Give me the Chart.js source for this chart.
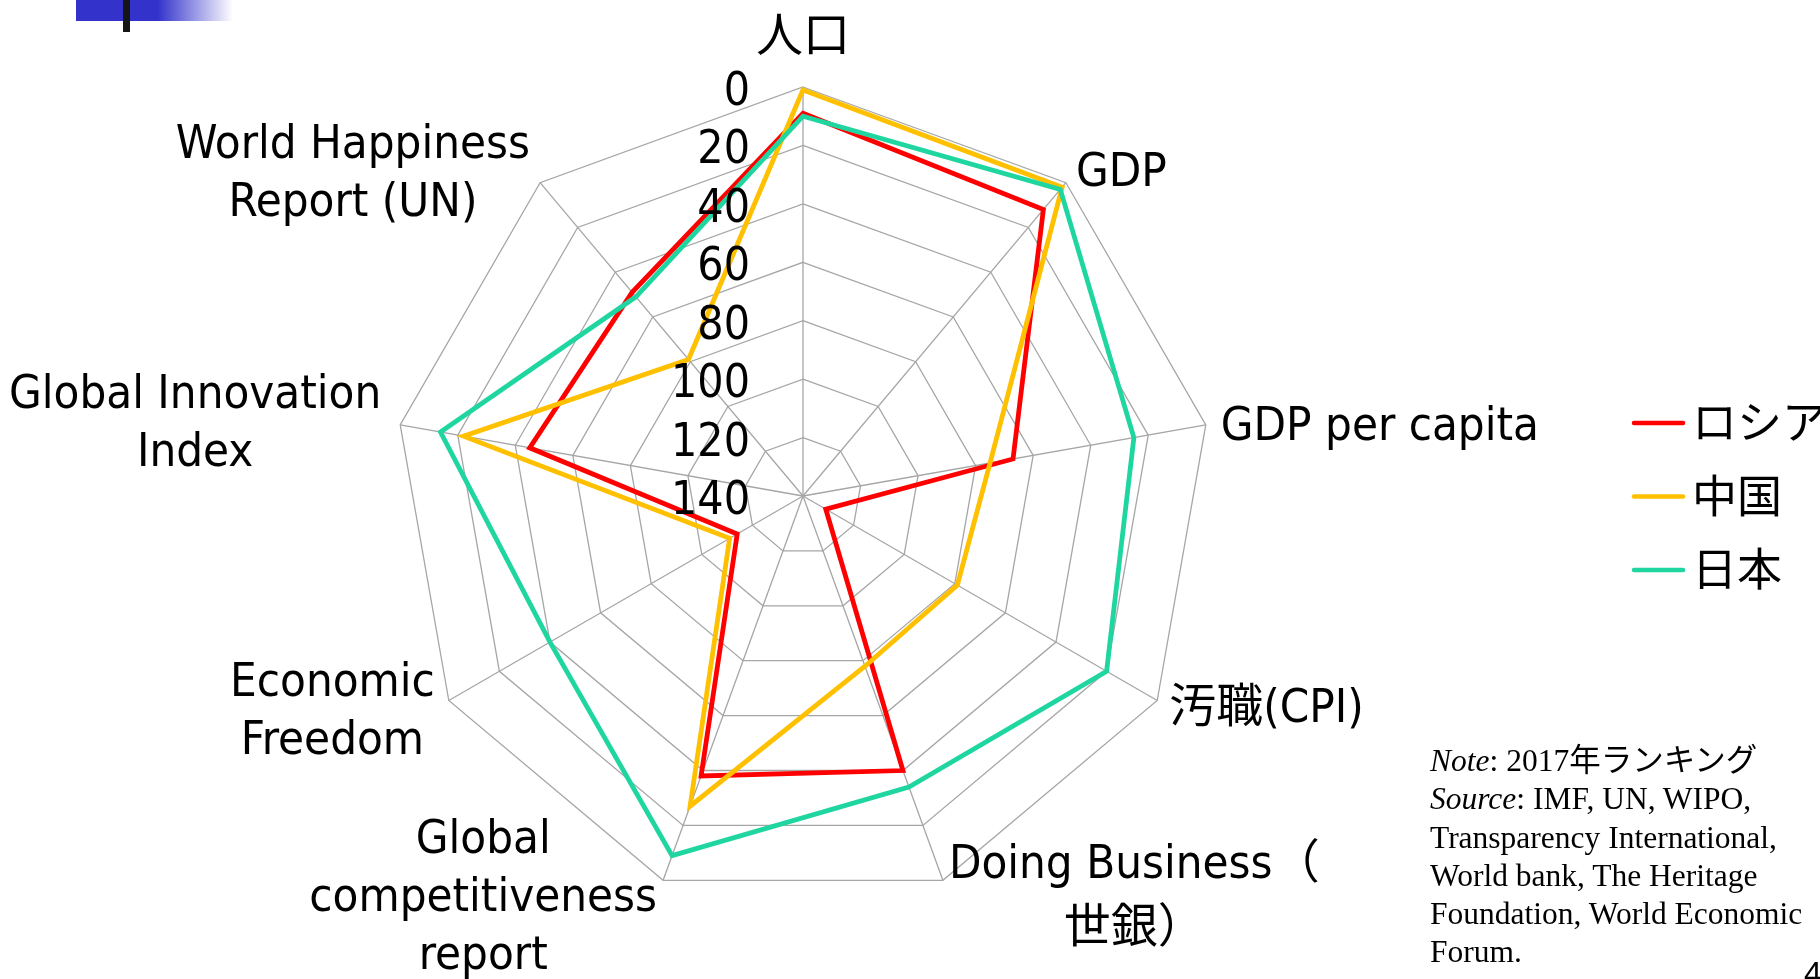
<!DOCTYPE html>
<html>
<head>
<meta charset="utf-8">
<script src="https://cdn.jsdelivr.net/npm/chart.js@4.4.1/dist/chart.umd.min.js"></script>
<style>
  html, body { margin: 0; padding: 0; background: #fff; }
  body { width: 1820px; height: 979px; position: relative; overflow: hidden; }
  #chart { position: absolute; left: 0; top: 0; }
  .band { position: absolute; left: 76px; top: 0; width: 157px; height: 21px;
          background: linear-gradient(to right, #3333cc 0%, #3333cc 52%, rgba(51,51,204,0) 100%); }
  .stem { position: absolute; left: 123px; top: 0; width: 7px; height: 32px; background: #151515; }
  .note { position: absolute; left: 1430px; top: 742px; color: #000; white-space: nowrap;
          font: 31.5px/38.3px "Liberation Serif", "Noto Sans CJK JP", serif; }
  .page { position: absolute; left: 1804px; top: 955px; font: 32px "Liberation Sans", sans-serif; color: #000; }
</style>
</head>
<body>
<div class="band"></div>
<div class="stem"></div>
<canvas id="chart" width="1820" height="979"></canvas>
<div class="note"><i>Note</i>: 2017年ランキング<br><i>Source</i>: IMF, UN, WIPO,<br>Transparency International,<br>World bank, The Heritage<br>Foundation, World Economic<br>Forum.</div>
<div class="page">4</div>
<script>
// Axes of the radar (multi-line labels as arrays)
const categories = [
  ['人口'],
  ['GDP'],
  ['GDP per capita'],
  ['汚職(CPI)'],
  ['Doing Business（', '世銀）'],
  ['Global', 'competitiveness', 'report'],
  ['Economic', 'Freedom'],
  ['Global Innovation', 'Index'],
  ['World Happiness', 'Report (UN)']
];

// Country names and their rank on each axis (1 = best)
const seriesNames = ['ロシア', '中国', '日本'];
const russiaRanks = [9, 12, 67, 131, 40, 38, 114, 45, 49];
const chinaRanks  = [1, 2, 75, 79, 78, 27, 111, 22, 79];
const japanRanks  = [10, 3, 25, 20, 34, 9, 40, 14, 51];

// Radial tick values (rank 0 on the rim, 140 at the centre)
const tickValues = [0, 20, 40, 60, 80, 100, 120, 140];

const seriesColors = ['#ff0000', '#ffc000', '#1fd6a0'];

const FONT = '"DejaVu Sans Condensed", "Liberation Sans", "Noto Sans CJK JP", sans-serif';
const CJK_FONT = '"Noto Sans CJK JP", sans-serif';

// Where each axis title sits relative to the rim vertex of its spoke
const labelLayout = [
  { align: 'center', dx: 0,   dy: -48 },
  { align: 'left',   dx: 10,  dy: -9 },
  { align: 'left',   dx: 15,  dy: 3 },
  { align: 'left',   dx: 12,  dy: 9 },
  { align: 'left',   dx: 6,   dy: 17, lh: 64 },
  { align: 'right',  dx: -6,  dy: 18 },
  { align: 'right',  dx: -14, dy: 12 },
  { align: 'right',  dx: -19, dy: 0 },
  { align: 'right',  dx: -10, dy: -8 }
];

const radarText = {
  id: 'radarText',
  afterDatasetsDraw(chart) {
    const ctx = chart.ctx;
    const r = chart.scales.r;
    ctx.save();
    ctx.fillStyle = '#000';

    // rank ticks, right-aligned beside the vertical spoke
    ctx.font = '46px ' + FONT;
    ctx.textAlign = 'right';
    ctx.textBaseline = 'middle';
    r.ticks.forEach(t => {
      const d = r.getDistanceFromCenterForValue(t.value);
      ctx.fillText(t.label, r.xCenter - 53, r.yCenter - d + 6);
    });

    // axis titles, lines centred within their block
    ctx.font = '47px ' + FONT;
    const rim = r.getDistanceFromCenterForValue(r.min);
    chart.data.labels.forEach((lines, i) => {
      const lay = labelLayout[i];
      const p = r.getPointPosition(i, rim);
      const lh = lay.lh || 58;
      const w = Math.max(...lines.map(s => ctx.measureText(s).width));
      let cx = p.x + lay.dx;
      if (lay.align === 'left') cx += w / 2;
      if (lay.align === 'right') cx -= w / 2;
      const cy = p.y + lay.dy;
      ctx.textAlign = 'center';
      lines.forEach((s, k) => {
        ctx.fillText(s, cx, cy + (k - (lines.length - 1) / 2) * lh);
      });
    });
    ctx.restore();
  },
  afterDraw(chart) {
    // series key on the right
    const ctx = chart.ctx;
    ctx.save();
    ctx.font = '45px ' + CJK_FONT;
    ctx.textAlign = 'left';
    ctx.textBaseline = 'middle';
    chart.data.datasets.forEach((ds, i) => {
      const y = 423 + i * 73.5;
      ctx.strokeStyle = ds.borderColor;
      ctx.lineWidth = 4.5;
      ctx.lineCap = 'round';
      ctx.beginPath();
      ctx.moveTo(1634, y);
      ctx.lineTo(1683, y);
      ctx.stroke();
      ctx.fillStyle = '#000';
      ctx.fillText(ds.label, 1692, y - 1);
    });
    ctx.restore();
  }
};

const seriesData = [russiaRanks, chinaRanks, japanRanks];

new Chart(document.getElementById('chart'), {
  type: 'radar',
  data: {
    labels: categories,
    datasets: seriesNames.map((name, i) => ({
      label: name,
      data: seriesData[i],
      borderColor: seriesColors[i],
      backgroundColor: 'rgba(0,0,0,0)',
      fill: false,
      order: seriesNames.length - i
    }))
  },
  options: {
    responsive: false,
    animation: false,
    devicePixelRatio: 1,
    layout: { padding: { left: 394, right: 608, top: 87, bottom: 74 } },
    plugins: { legend: { display: false }, tooltip: { enabled: false } },
    elements: {
      line: { borderWidth: 4.8, tension: 0, borderJoinStyle: 'miter' },
      point: { radius: 0, hoverRadius: 0 }
    },
    scales: {
      r: {
        min: tickValues[0],
        max: tickValues[tickValues.length - 1],
        reverse: true,
        ticks: { display: false, stepSize: tickValues[1] - tickValues[0] },
        grid: { color: '#a6a6a6', lineWidth: 1.3 },
        angleLines: { color: '#a6a6a6', lineWidth: 1.3 },
        pointLabels: { display: false }
      }
    }
  },
  plugins: [radarText]
});
</script>
</body>
</html>
